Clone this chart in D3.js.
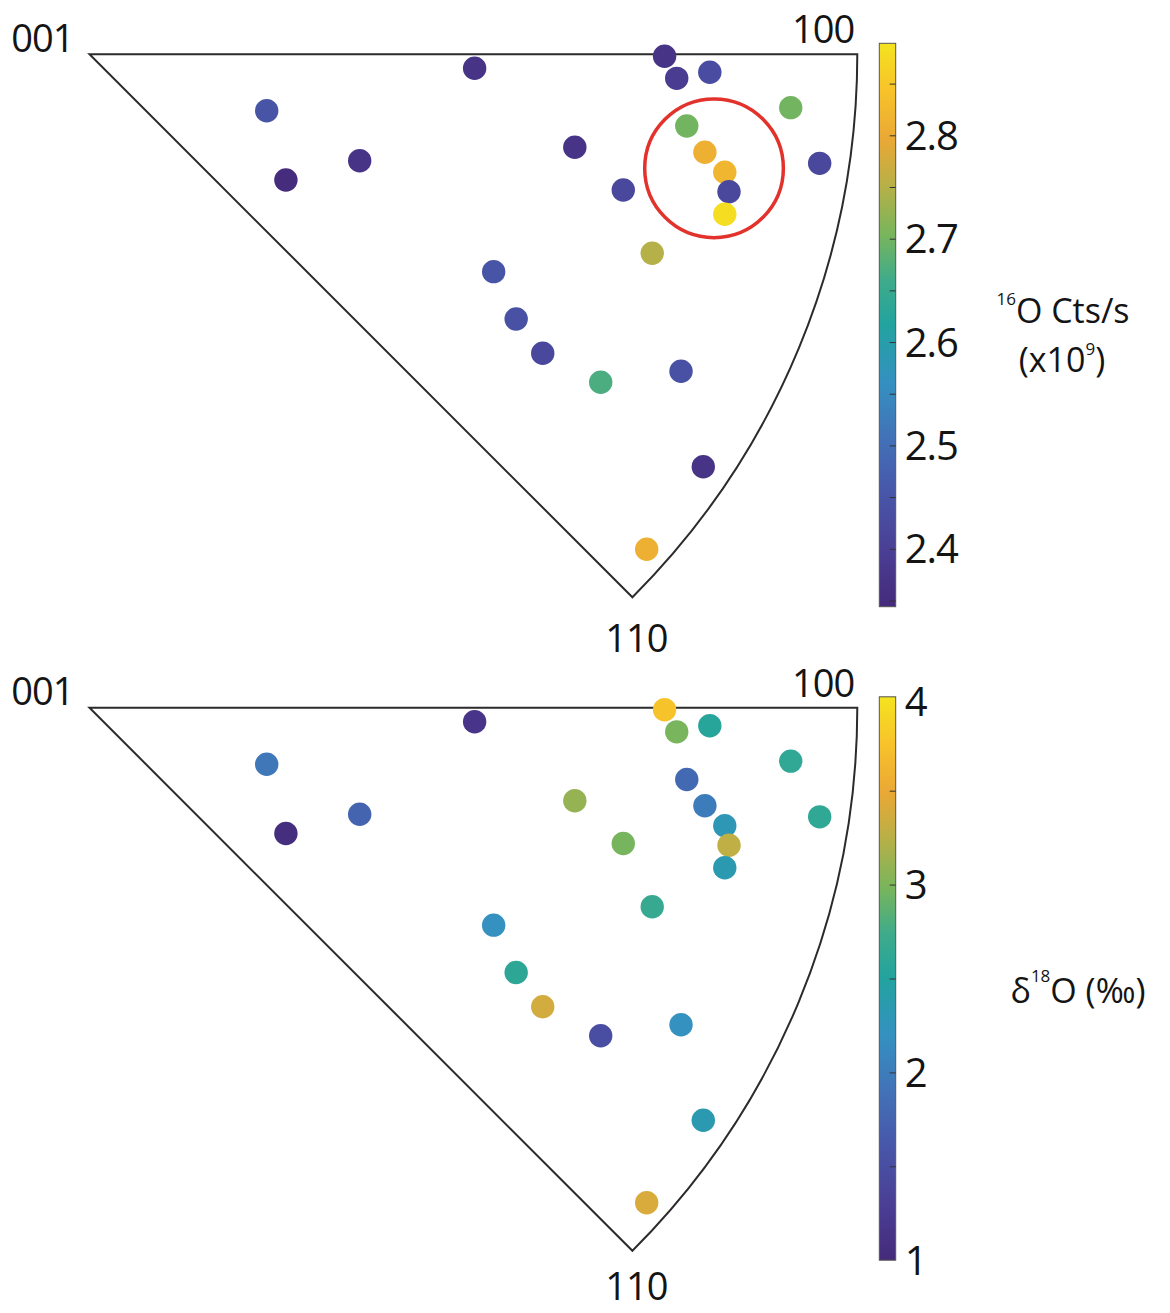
<!DOCTYPE html>
<html>
<head>
<meta charset="utf-8">
<script src="https://cdn.jsdelivr.net/npm/d3@7"></script>
<style>
  body { margin: 0; background: #fff; }
  svg { display: block; }
</style>
</head>
<body>
<script>
// grain positions in the inverse pole figure, 001 = (0,0), 100 = (1,0), 110 = (0.707,0.707)
var grainX = [0.5016, 0.2308, 0.3519, 0.2558, 0.6321, 0.5264, 0.5557, 0.7490, 0.7648, 0.8079, 0.9133, 0.7779,
              0.8015, 0.8274, 0.8329, 0.8274, 0.6952, 0.9510, 0.7329, 0.5903, 0.6658, 0.7704, 0.7994, 0.7257];
var grainY = [0.0182, 0.0735, 0.1386, 0.1637, 0.1211, 0.2831, 0.3448, 0.0025, 0.0313, 0.0234, 0.0695, 0.0934,
              0.1276, 0.1537, 0.1790, 0.2084, 0.1767, 0.1420, 0.2592, 0.3894, 0.4272, 0.4129, 0.5371, 0.6447];

// 16O counts per second (x10^9), top panel
var o16Counts = [2.37, 2.45, 2.37, 2.35, 2.37, 2.45, 2.44, 2.37, 2.39, 2.43, 2.70, 2.70,
                 2.81, 2.82, 2.42, 2.88, 2.42, 2.42, 2.75, 2.42, 2.67, 2.44, 2.37, 2.81];
// d18O (permil), bottom panel
var d18O = [1.15, 1.95, 1.75, 1.05, 3.10, 2.20, 2.60, 3.75, 2.98, 2.55, 2.62, 1.80,
            2.00, 2.30, 3.28, 2.35, 2.97, 2.62, 2.67, 3.37, 1.50, 2.20, 2.35, 3.40];

var o16Range = [2.344, 2.889];
var o16TickLabels = [2.4, 2.5, 2.6, 2.7, 2.8];
var o16MinorTicks = [2.35, 2.4, 2.45, 2.5, 2.55, 2.6, 2.65, 2.7, 2.75, 2.8, 2.85];
var d18ORange = [1, 4];
var d18OTickLabels = [1, 2, 3, 4];
var d18OMinorTicks = [1.5, 2, 2.5, 3, 3.5];

var cornerLabels = ["001", "100", "110"];
var highlightCircle = [0.8134, 0.1485, 0.0903]; // cx, cy, r (top panel)

var colormapStops = [0, 0.1, 0.2, 0.3, 0.4, 0.5, 0.58, 0.66, 0.75, 0.83, 0.92, 1];
var colormapColors = ["#452a7a", "#4a3f95", "#4856a8", "#4272b8", "#3491c0", "#22a39f",
                      "#3fab8a", "#78b55c", "#b9b047", "#eaa835", "#f8c42a", "#f4e31f"];

var fontFamily = "'Open Sans', 'Noto Sans', sans-serif";
var ramp = d3.scaleLinear().domain(colormapStops).range(colormapColors).interpolate(d3.interpolateRgb);

var svg = d3.select("body").append("svg").attr("width", 1170).attr("height", 1313);
var defs = svg.append("defs");

var x = d3.scaleLinear().domain([0, 1]).range([89.5, 857.3]);
var unit = x(1) - x(0);

function drawPanel(opts) {
  var y = d3.scaleLinear().domain([0, 1]).range([opts.top, opts.top + unit]);
  var norm = d3.scaleLinear().domain(opts.range).range([0, 1]).clamp(true);
  var g = svg.append("g");

  // triangle outline: two straight edges from 001, arc from 100 to 110
  var p = d3.path();
  p.moveTo(x(0), y(0));
  p.lineTo(x(1), y(0));
  p.arc(x(0), y(0), unit, 0, Math.PI / 4);
  p.closePath();
  g.append("path").attr("d", p.toString())
    .attr("fill", "none").attr("stroke", "#2b2b2b").attr("stroke-width", 2).attr("stroke-linejoin", "miter");

  g.selectAll("circle.grain").data(opts.values).enter().append("circle")
    .attr("class", "grain")
    .attr("cx", function(d, i) { return x(grainX[i]); })
    .attr("cy", function(d, i) { return y(grainY[i]); })
    .attr("r", 11.7)
    .attr("fill", function(d) { return ramp(norm(d)); });

  if (opts.highlight) {
    g.append("circle")
      .attr("cx", x(highlightCircle[0])).attr("cy", y(highlightCircle[1]))
      .attr("r", x(highlightCircle[2]) - x(0))
      .attr("fill", "none").attr("stroke", "#e2322b").attr("stroke-width", 3.5);
  }

  // corner labels
  var corners = [[0, 0], [1, 0], [Math.SQRT1_2, Math.SQRT1_2]];
  var offsets = [[-16, -2.5, "end"], [-3, -11, "end"], [4, opts.bottomLabelDrop, "middle"]];
  g.selectAll("text.corner").data(cornerLabels).enter().append("text")
    .attr("class", "corner")
    .attr("x", function(d, i) { return x(corners[i][0]) + offsets[i][0]; })
    .attr("y", function(d, i) { return y(corners[i][1]) + offsets[i][1]; })
    .attr("text-anchor", function(d, i) { return offsets[i][2]; })
    .style("font-family", fontFamily).style("font-size", "38px").style("letter-spacing", "-1px")
    .attr("fill", "#141414")
    .text(function(d) { return d; });

  // colour bar
  var barTop = opts.top - 11, barBottom = opts.top + 552.4, barLeft = 879.3, barWidth = 16.4;
  var c = d3.scaleLinear().domain(opts.range).range([barBottom, barTop]);
  var gradId = "grad" + opts.id;
  var grad = defs.append("linearGradient").attr("id", gradId)
    .attr("x1", 0).attr("y1", 1).attr("x2", 0).attr("y2", 0);
  grad.selectAll("stop").data(colormapStops).enter().append("stop")
    .attr("offset", function(d) { return d; })
    .attr("stop-color", function(d, i) { return colormapColors[i]; });
  g.append("rect").attr("x", barLeft).attr("y", barTop).attr("width", barWidth).attr("height", barBottom - barTop)
    .attr("fill", "url(#" + gradId + ")").attr("stroke", "#555").attr("stroke-width", 1);

  var minor = g.append("g").attr("transform", "translate(" + (barLeft + barWidth) + ",0)")
    .call(d3.axisLeft(c).tickValues(opts.minor).tickSize(6).tickFormat(""));
  minor.select(".domain").remove();
  minor.selectAll("line").attr("stroke", "#333").attr("stroke-width", 1);

  var labels = g.append("g").attr("transform", "translate(" + (barLeft + barWidth) + ",0)")
    .call(d3.axisRight(c).tickValues(opts.labels).tickSize(0).tickPadding(9).tickFormat(opts.format));
  labels.select(".domain").remove();
  labels.selectAll("text")
    .attr("dy", null)
    .attr("y", function(d) { return Math.min(Math.max(14, barTop + 19 - c(d)), barBottom + 17 - c(d)); })
    .style("font-family", fontFamily).style("font-size", "40px").style("letter-spacing", "-1px")
    .attr("fill", "#141414");

  // colour bar title, parts flagged true are superscripts
  opts.title.forEach(function(line) {
    var t = g.append("text").attr("x", line.x).attr("y", line.y).attr("text-anchor", "middle")
      .style("font-family", fontFamily).style("font-size", "34px").attr("fill", "#141414");
    var shift = 0;
    line.parts.forEach(function(part) {
      var dy = part[1] ? -line.sup - shift : -shift;
      shift = part[1] ? -line.sup : 0;
      t.append("tspan").attr("dy", dy).style("font-size", part[1] ? "17px" : "34px").text(part[0]);
    });
  });
}

drawPanel({
  id: "o16", top: 54.3, values: o16Counts, range: o16Range, labels: o16TickLabels, minor: o16MinorTicks,
  format: d3.format(".1f"), highlight: true, bottomLabelDrop: 55,
  title: [
    {x: 1063, y: 323, sup: 18, parts: [["16", true], ["O Cts/s", false]]},
    {x: 1062, y: 372, sup: 17, parts: [["(x10", false], ["9", true], [")", false]]}
  ]
});

drawPanel({
  id: "d18", top: 707.8, values: d18O, range: d18ORange, labels: d18OTickLabels, minor: d18OMinorTicks,
  format: d3.format("d"), highlight: false, bottomLabelDrop: 49,
  title: [
    {x: 1078, y: 1003, sup: 21, parts: [["δ", false], ["18", true], ["O (‰)", false]]}
  ]
});
</script>
</body>
</html>
